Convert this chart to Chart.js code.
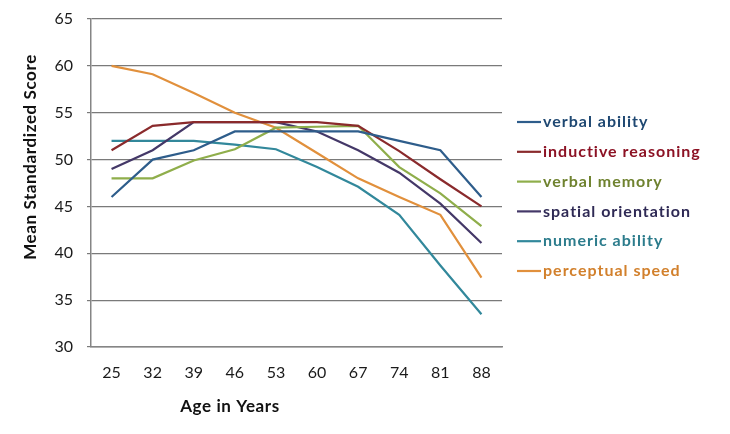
<!DOCTYPE html>
<html>
<head>
<meta charset="utf-8">
<script src="https://cdn.jsdelivr.net/npm/chart.js@4.4.1/dist/chart.umd.min.js"></script>
<style>
  html, body { margin: 0; padding: 0; background: #fff; }
  #wrap { width: 730px; height: 434px; position: relative; }
</style>
</head>
<body>
<div id="wrap"><canvas id="abilityChart"></canvas></div>
<script>
// Veriler
const ages = ['25', '32', '39', '46', '53', '60', '67', '74', '81', '88'];
const verbalAbility      = [46, 50, 51, 53, 53, 53, 53, 52, 51, 46];
const inductiveReasoning = [51, 53.6, 54, 54, 54, 54, 53.6, 50.9, 47.9, 45];
const verbalMemory       = [48, 48, 49.9, 51.1, 53.4, 53.5, 53.6, 49.2, 46.4, 42.9];
const spatialOrientation = [49, 51, 54, 54, 54, 53, 51, 48.6, 45.3, 41.1];
const numericAbility     = [52, 52, 52, 51.6, 51.1, 49.2, 47.1, 44.1, 38.7, 33.5];
const perceptualSpeed    = [60, 59.1, 57.1, 55, 53.4, 50.7, 48, 46, 44.1, 37.4];

const seriesNames = ['verbal ability', 'inductive reasoning', 'verbal memory',
                     'spatial orientation', 'numeric ability', 'perceptual speed'];
const seriesData = [verbalAbility, inductiveReasoning, verbalMemory,
                    spatialOrientation, numericAbility, perceptualSpeed];
const lineColors = ['#2e5d8b', '#8a2a2c', '#8fae4b', '#443868', '#32889b', '#e1903c'];
const textColors = ['#1f4872', '#8c1224', '#6f822f', '#2f2a55', '#2c7c8c', '#d2802c'];

const yMin = 30, yMax = 65, yStep = 5;
const xTitle = 'Age in Years';
const yTitle = 'Mean Standardized Score';

const FONT = 'Lato, "Open Sans", sans-serif';

// Lejant ve eksen başlıkları
const extrasPlugin = {
    id: 'extras',
    afterDraw(chart) {
        const ctx = chart.ctx;
        ctx.save();
        // legend
        ctx.font = 'bold 16px ' + FONT;
        ctx.letterSpacing = '1px';
        ctx.textBaseline = 'middle';
        ctx.textAlign = 'left';
        seriesNames.forEach((name, i) => {
            const y = 122 + i * 29.8;
            ctx.strokeStyle = lineColors[i];
            ctx.lineWidth = 2.2;
            ctx.beginPath();
            ctx.moveTo(517, y);
            ctx.lineTo(541, y);
            ctx.stroke();
            ctx.fillStyle = textColors[i];
            ctx.fillText(name, 543, y);
        });
        // axis titles
        ctx.fillStyle = '#111';
        ctx.font = 'bold 17px ' + FONT;
        ctx.letterSpacing = '0.6px';
        ctx.textAlign = 'center';
        ctx.fillText(xTitle, 230, 407);
        ctx.translate(31, 157);
        ctx.rotate(-Math.PI / 2);
        ctx.fillText(yTitle, 0, 0);
        ctx.restore();
    }
};

const ctx = document.getElementById('abilityChart').getContext('2d');
new Chart(ctx, {
    type: 'line',
    data: {
        labels: ages,
        datasets: seriesNames.map((name, i) => ({
            label: name,
            data: seriesData[i],
            borderColor: lineColors[i],
            backgroundColor: lineColors[i],
            borderWidth: 2.2,
            pointRadius: 0,
            tension: 0
        }))
    },
    options: {
        responsive: true,
        maintainAspectRatio: false,
        animation: false,
        layout: { padding: { left: 0, right: 228, top: 19, bottom: 0 } },
        plugins: {
            legend: { display: false },
            tooltip: { enabled: false }
        },
        scales: {
            x: {
                offset: true,
                grid: { display: false },
                border: { display: true, color: '#858585', width: 1.5 },
                ticks: { color: '#1a1a1a', font: { family: FONT, size: 16 }, padding: 8, maxRotation: 0 },
                afterFit(scale) { scale.height = 87; }
            },
            y: {
                min: yMin,
                max: yMax,
                grid: { color: '#7a7a7a', lineWidth: 1.2, tickLength: 4 },
                border: { display: true, color: '#858585', width: 1.5 },
                ticks: { stepSize: yStep, color: '#1a1a1a', font: { family: FONT, size: 16 }, padding: 14 },
                afterFit(scale) {
                    scale.width = 91;
                    scale.paddingTop = 0;
                    scale.paddingBottom = 0;
                }
            }
        }
    },
    plugins: [extrasPlugin]
});
</script>
</body>
</html>
